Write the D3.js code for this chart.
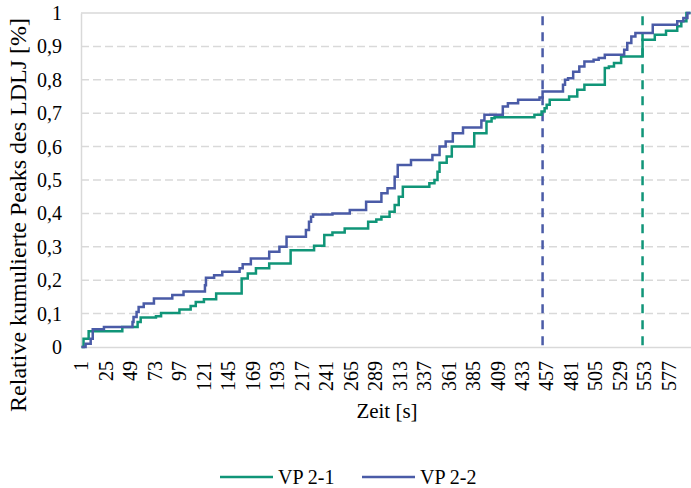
<!DOCTYPE html>
<html>
<head>
<meta charset="utf-8">
<script src="https://cdn.jsdelivr.net/npm/d3@7"></script>
<style>
  body { margin: 0; background: #fff; }
  svg { font-family: "Liberation Serif", "Times New Roman", serif; }
</style>
</head>
<body>
<svg id="chart" width="691" height="488"></svg>
<script>
// step breakpoints: second -> cumulative share
const greenT = [1, 3, 8, 41, 56, 59, 74, 79, 97, 108, 113, 121, 133, 158, 164, 172, 185, 206, 229, 239, 247, 259, 282, 290, 295, 303, 308, 312, 316, 342, 347, 350, 352, 359, 364, 386, 398, 403, 406, 445, 452, 455, 457, 460, 479, 487, 494, 514, 518, 523, 530, 551, 563, 574, 585, 589, 594, 598];
const greenV = [0, 0.025, 0.047, 0.06, 0.075, 0.088, 0.092, 0.102, 0.112, 0.123, 0.135, 0.143, 0.16, 0.205, 0.22, 0.236, 0.25, 0.29, 0.303, 0.335, 0.343, 0.355, 0.375, 0.382, 0.39, 0.405, 0.425, 0.45, 0.48, 0.49, 0.5, 0.525, 0.552, 0.57, 0.6, 0.64, 0.675, 0.685, 0.688, 0.695, 0.705, 0.715, 0.725, 0.74, 0.75, 0.77, 0.785, 0.835, 0.84, 0.85, 0.87, 0.92, 0.935, 0.947, 0.96, 0.975, 1, 1];

const blueT = [1, 5, 10, 12, 23, 51, 52, 55, 57, 62, 72, 90, 101, 122, 123, 131, 139, 156, 159, 167, 185, 195, 202, 221, 224, 226, 228, 247, 264, 280, 295, 301, 308, 311, 324, 345, 352, 358, 365, 375, 393, 396, 414, 419, 429, 450, 453, 473, 475, 478, 483, 489, 494, 503, 508, 514, 533, 536, 540, 544, 561, 585, 591, 595, 598];
const blueV = [0, 0.01, 0.025, 0.053, 0.06, 0.075, 0.09, 0.105, 0.12, 0.13, 0.145, 0.156, 0.166, 0.185, 0.207, 0.215, 0.225, 0.236, 0.248, 0.265, 0.285, 0.3, 0.33, 0.35, 0.375, 0.39, 0.397, 0.4, 0.41, 0.435, 0.46, 0.475, 0.51, 0.545, 0.56, 0.575, 0.6, 0.615, 0.64, 0.657, 0.678, 0.695, 0.72, 0.73, 0.74, 0.747, 0.765, 0.785, 0.8, 0.805, 0.824, 0.84, 0.855, 0.86, 0.865, 0.875, 0.89, 0.91, 0.93, 0.94, 0.965, 0.975, 0.985, 1, 1];

const seconds = d3.range(1, 599);          // category axis 1..598
const xTickLabels = d3.range(1, 599, 24);  // 1, 25, 49, ... 577
const yTicks = [0, 0.1, 0.2, 0.3, 0.4, 0.5, 0.6, 0.7, 0.8, 0.9, 1];
const markers = [{ t: 453, color: '#4A5BA7' }, { t: 551, color: '#109578' }];

const series = [
  { name: 'VP 2-1', color: '#109578', pts: greenT.map((t, i) => [t, greenV[i]]) },
  { name: 'VP 2-2', color: '#4A5BA7', pts: blueT.map((t, i) => [t, blueV[i]]) }
];

const margin = { top: 13, right: 0, bottom: 141, left: 81 };
const width = 691, height = 488;
const svg = d3.select('#chart');

const x = d3.scaleBand()
  .domain(seconds)
  .range([margin.left, width - margin.right]);
const xc = t => x(t) + x.bandwidth() / 2;

const y = d3.scaleLinear()
  .domain([0, 1])
  .range([height - margin.bottom, margin.top]);

// gridlines
svg.append('g')
  .selectAll('line')
  .data(yTicks.filter(d => d > 0))
  .join('line')
  .attr('x1', margin.left).attr('x2', width - margin.right)
  .attr('y1', d => y(d)).attr('y2', d => y(d))
  .attr('stroke', '#D9D9D9')
  .attr('stroke-width', 1.5)
  .attr('stroke-dasharray', d => d === 1 ? null : '8,4');

// y axis
const yAxis = svg.append('g')
  .attr('transform', `translate(${margin.left},0)`)
  .call(d3.axisLeft(y).tickValues(yTicks).tickSize(0).tickPadding(19)
    .tickFormat(d => String(d).replace('.', ',')));
yAxis.select('.domain').attr('stroke', '#D9D9D9').attr('stroke-width', 1.5);
yAxis.selectAll('text').attr('font-size', 20).attr('fill', '#000')
  .attr('font-family', '"Liberation Serif", serif');

// x axis
const xAxis = svg.append('g')
  .attr('transform', `translate(0,${height - margin.bottom})`)
  .call(d3.axisBottom(x).tickValues(xTickLabels).tickSize(0));
xAxis.select('.domain').attr('stroke', '#D9D9D9').attr('stroke-width', 1.5);
xAxis.selectAll('text')
  .attr('font-size', 20).attr('fill', '#000')
  .attr('font-family', '"Liberation Serif", serif')
  .attr('transform', 'rotate(-90)')
  .attr('text-anchor', 'end')
  .attr('x', -14).attr('y', 0).attr('dy', '0.34em');

// marker lines
svg.append('g')
  .selectAll('line')
  .data(markers)
  .join('line')
  .attr('x1', d => xc(d.t)).attr('x2', d => xc(d.t))
  .attr('y1', y(0.99)).attr('y2', y(0))
  .attr('stroke', d => d.color)
  .attr('stroke-width', 2.5)
  .attr('stroke-dasharray', '9,7');

// series
const line = d3.line()
  .x(d => xc(d[0]))
  .y(d => y(d[1]))
  .curve(d3.curveStepAfter);

svg.append('g')
  .selectAll('path')
  .data(series)
  .join('path')
  .attr('fill', 'none')
  .attr('stroke', d => d.color)
  .attr('stroke-width', 2.5)
  .attr('d', d => line(d.pts));

// axis titles
svg.append('text')
  .attr('x', 387).attr('y', 418)
  .attr('text-anchor', 'middle')
  .attr('font-size', 21)
  .text('Zeit [s]');

svg.append('text')
  .attr('transform', 'translate(26,215) rotate(-90)')
  .attr('text-anchor', 'middle')
  .attr('font-size', 24)
  .text('Relative kumulierte Peaks des LDLJ [%]');

// legend
const legend = svg.append('g')
  .selectAll('g')
  .data(series)
  .join('g')
  .attr('transform', (d, i) => `translate(${220 + i * 142},477)`);
legend.append('line')
  .attr('x1', 0).attr('x2', 53)
  .attr('stroke', d => d.color)
  .attr('stroke-width', 2.5);
legend.append('text')
  .attr('x', 58).attr('y', 7)
  .attr('font-size', 20)
  .text(d => d.name);
</script>
</body>
</html>
